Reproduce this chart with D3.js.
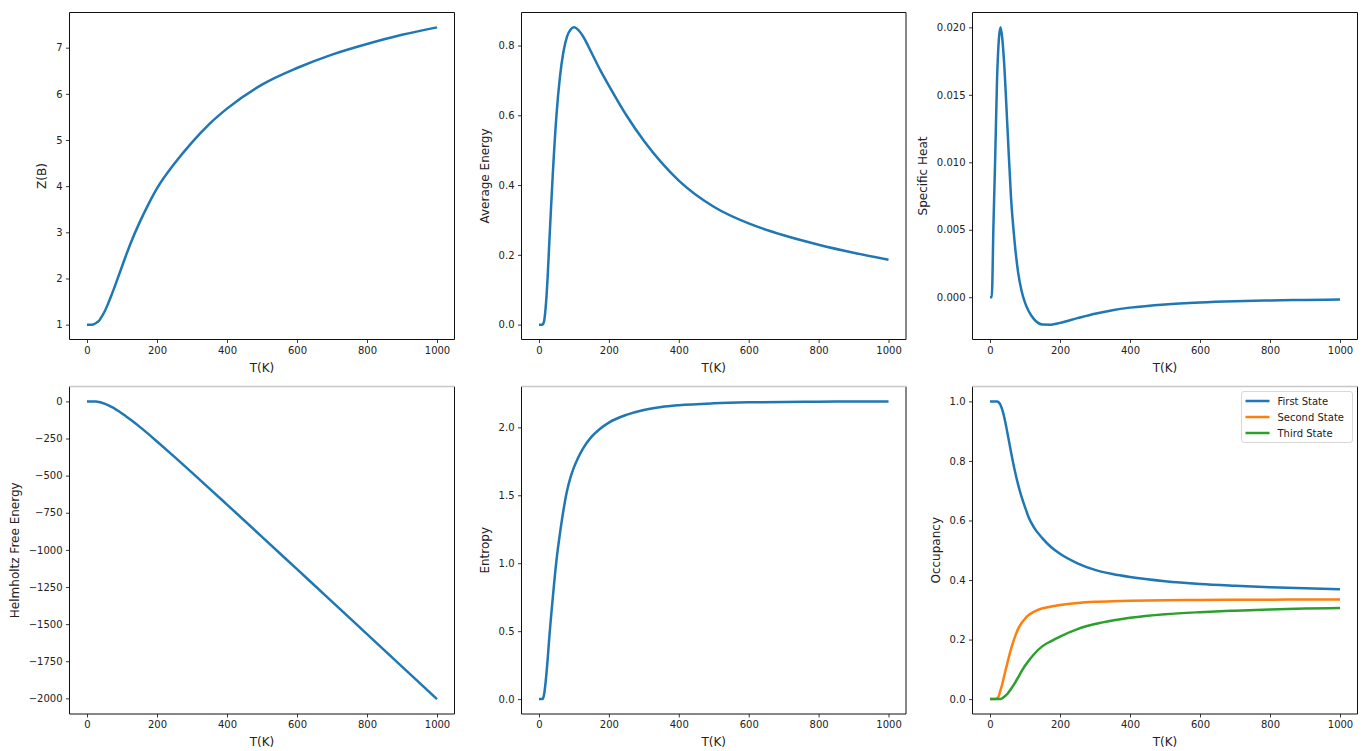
<!DOCTYPE html>
<html>
<head>
<meta charset="utf-8">
<script src="https://cdn.jsdelivr.net/npm/d3@7"></script>
<style>
  body { margin: 0; background: #fff; }
  svg text { font-family: "DejaVu Sans", sans-serif; fill: #222; }
</style>
</head>
<body>
<div id="chart"></div>
<script>
// temperatures the curves were read at (K)
var temps = [0, 5, 10, 15, 20, 25, 30, 35, 40, 50, 60, 70, 80, 90, 100, 110, 125, 150, 175, 200,
             250, 300, 350, 400, 500, 600, 700, 800, 900, 1000];

// values, one per temperature
var partition = [1.0, 1.0, 1.0, 1.0, 1.01, 1.03, 1.055, 1.09, 1.15, 1.28, 1.45, 1.64, 1.84, 2.05, 2.26, 2.47, 2.77, 3.21, 3.6, 3.95,
                 4.49, 4.95, 5.35, 5.68, 6.2, 6.56, 6.85, 7.08, 7.28, 7.44];
var avgEnergy = [0, 0, 0, 0.012, 0.06, 0.14, 0.245, 0.345, 0.44, 0.6, 0.71, 0.782, 0.825, 0.845, 0.852, 0.847, 0.828, 0.78, 0.73, 0.685,
                 0.6, 0.527, 0.465, 0.413, 0.338, 0.29, 0.256, 0.229, 0.206, 0.186];
var specHeat = [0, 0, 0.0055, 0.0105, 0.016, 0.019, 0.020, 0.0192, 0.0175, 0.0125, 0.0074, 0.0042, 0.0019, 0.0005, -0.0004, -0.001, -0.0016, -0.00202, -0.00203, -0.0019,
                -0.00155, -0.00122, -0.00096, -0.00077, -0.00053, -0.00039, -0.0003, -0.00024, -0.0002, -0.00017];
var helmholtz = [0, 0, 0, 0, -0.3, -1, -2.5, -4.5, -7, -15, -25, -37, -50, -65, -81, -98, -124, -170, -219, -270,
                 -374, -480, -587, -695, -912, -1130, -1348, -1567, -1786, -2005];
var entropy = [0, 0, 0, 0.04, 0.15, 0.3, 0.47, 0.62, 0.76, 1.02, 1.22, 1.39, 1.53, 1.63, 1.705, 1.765, 1.84, 1.93, 1.99, 2.035,
               2.092, 2.128, 2.15, 2.163, 2.177, 2.184, 2.187, 2.189, 2.19, 2.191];
var firstState = [1, 1, 1, 1, 1, 0.997, 0.988, 0.972, 0.95, 0.893, 0.83, 0.772, 0.722, 0.68, 0.645, 0.612, 0.578, 0.54, 0.51, 0.488,
                  0.456, 0.434, 0.42, 0.41, 0.396, 0.387, 0.381, 0.376, 0.372, 0.369];
var secondState = [0, 0, 0, 0, 0.002, 0.01, 0.03, 0.05, 0.075, 0.123, 0.168, 0.205, 0.235, 0.255, 0.27, 0.282, 0.293, 0.305, 0.311, 0.316,
                   0.323, 0.327, 0.329, 0.33, 0.332, 0.333, 0.334, 0.334, 0.335, 0.335];
var thirdState = [0, 0, 0, 0, 0, 0, 0, 0.003, 0.007, 0.018, 0.034, 0.052, 0.072, 0.093, 0.112, 0.128, 0.15, 0.178, 0.195, 0.21,
                  0.235, 0.252, 0.264, 0.273, 0.285, 0.292, 0.297, 0.301, 0.304, 0.306];

var stateNames = ['First State', 'Second State', 'Third State'];

// tick labels
var xTicks = [0, 200, 400, 600, 800, 1000];
var zTicks = [1, 2, 3, 4, 5, 6, 7];
var energyTicks = [0, 0.2, 0.4, 0.6, 0.8];
var heatTicks = [0, 0.005, 0.01, 0.015, 0.02];
var helmTicks = [0, -250, -500, -750, -1000, -1250, -1500, -1750, -2000];
var entropyTicks = [0, 0.5, 1, 1.5, 2];
var occTicks = [0, 0.2, 0.4, 0.6, 0.8, 1];

var colors = ['#1f77b4', '#ff7f0e', '#2ca02c'];

var width = 1365, height = 751;

var svg = d3.select('#chart')
    .append('svg')
    .attr('width', width)
    .attr('height', height);

var panels = [
    {box: [69.5, 12.5, 454.5, 339.5], ylabel: 'Z(B)', series: [partition], ticks: zTicks, fmt: d3.format('d')},
    {box: [521.5, 12.5, 906, 339.5], ylabel: 'Average Energy', series: [avgEnergy], ticks: energyTicks, fmt: d3.format('.1f')},
    {box: [972.5, 12.5, 1357.5, 339.5], ylabel: 'Specific Heat', series: [specHeat], ticks: heatTicks, fmt: d3.format('.3f')},
    {box: [69.5, 386.5, 454.5, 714], ylabel: 'Helmholtz Free Energy', series: [helmholtz], ticks: helmTicks, fmt: d3.format('d'), lightTop: true},
    {box: [521.5, 386.5, 906, 714], ylabel: 'Entropy', series: [entropy], ticks: entropyTicks, fmt: d3.format('.1f'), lightTop: true},
    {box: [972.5, 386.5, 1357.5, 714], ylabel: 'Occupancy', series: [firstState, secondState, thirdState], ticks: occTicks, fmt: d3.format('.1f'), lightTop: true, legend: true}
];

// matplotlib style 5% margins
function padded(lo, hi) {
    var m = (hi - lo) * 0.05;
    return [lo - m, hi + m];
}

panels.forEach(function (p) {
    var x0 = p.box[0], y0 = p.box[1], w = p.box[2] - p.box[0], h = p.box[3] - p.box[1];
    var g = svg.append('g').attr('transform', `translate(${x0},${y0})`);

    var allVals = d3.merge(p.series);
    var x = d3.scaleLinear().domain(padded(d3.min(temps), d3.max(temps))).range([0, w]);
    var y = d3.scaleLinear().domain(padded(d3.min(allVals), d3.max(allVals))).range([h, 0]);

    var line = d3.line()
        .x(function (d, i) { return x(temps[i]); })
        .y(function (d) { return y(d); })
        .curve(d3.curveMonotoneX);

    p.series.forEach(function (s, i) {
        g.append('path')
            .datum(s)
            .attr('d', line)
            .attr('fill', 'none')
            .attr('stroke', colors[i])
            .attr('stroke-width', 2.5)
            .attr('stroke-linejoin', 'round');
    });

    // X axis
    var xa = g.append('g')
        .attr('transform', `translate(0,${h})`)
        .call(d3.axisBottom(x).tickValues(xTicks).tickFormat(d3.format('d')).tickSizeOuter(0).tickSize(3.5).tickPadding(3.5));

    // Y axis
    var ya = g.append('g')
        .call(d3.axisLeft(y).tickValues(p.ticks).tickFormat(p.fmt).tickSizeOuter(0).tickSize(3.5).tickPadding(3.5));

    [xa, ya].forEach(function (a) {
        a.select('.domain').remove();
        a.selectAll('text').style('font-size', '10px').attr('fill', '#222');
        a.selectAll('line').attr('stroke', '#222').attr('stroke-width', 0.9);
    });

    // spines
    g.append('line').attr('x1', 0).attr('x2', w).attr('y1', h).attr('y2', h).attr('stroke', '#111');
    g.append('line').attr('x1', 0).attr('x2', 0).attr('y1', 0).attr('y2', h).attr('stroke', '#111');
    g.append('line').attr('x1', w).attr('x2', w).attr('y1', 0).attr('y2', h).attr('stroke', '#111');
    g.append('line').attr('x1', 0).attr('x2', w).attr('y1', 0).attr('y2', 0)
        .attr('stroke', p.lightTop ? '#c8c8c8' : '#111')
        .attr('stroke-width', p.lightTop ? 1.6 : 1);

    g.append('text')
        .attr('x', w / 2)
        .attr('y', h + 32)
        .attr('text-anchor', 'middle')
        .style('font-size', '12px')
        .text('T(K)');

    var bb = ya.node().getBBox();
    g.append('text')
        .attr('transform', `translate(${bb.x - 14},${h / 2}) rotate(-90)`)
        .attr('text-anchor', 'middle')
        .attr('dominant-baseline', 'central')
        .style('font-size', '12px')
        .text(p.ylabel);

    if (p.legend) {
        var lg = g.append('g').attr('transform', `translate(${w - 116},5)`);
        lg.append('rect')
            .attr('width', 111).attr('height', 51)
            .attr('rx', 2.5)
            .attr('fill', '#fff').attr('fill-opacity', 0.8)
            .attr('stroke', '#d8d8d8');
        stateNames.forEach(function (name, i) {
            var ly = 9.5 + i * 16;
            lg.append('line')
                .attr('x1', 4).attr('x2', 28)
                .attr('y1', ly).attr('y2', ly)
                .attr('stroke', colors[i]).attr('stroke-width', 2.5);
            lg.append('text')
                .attr('x', 36).attr('y', ly)
                .attr('dominant-baseline', 'central')
                .style('font-size', '10px')
                .text(name);
        });
    }
});
</script>
</body>
</html>
